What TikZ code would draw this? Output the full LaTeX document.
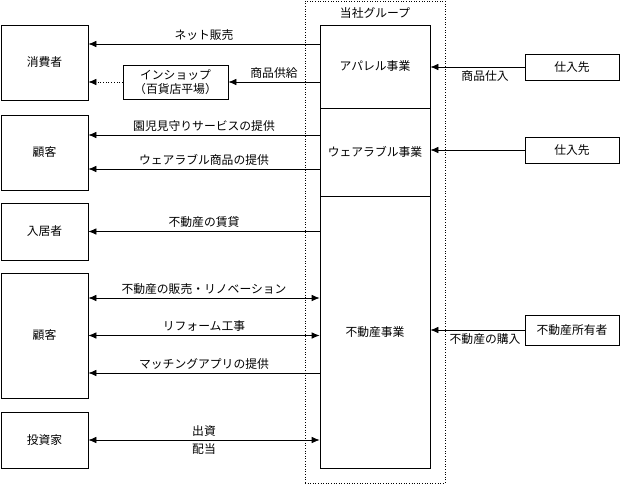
\documentclass[tikz,border=0pt]{standalone}
\usepackage{fontspec}
\setmainfont{Noto Sans CJK JP}
\usetikzlibrary{arrows.meta}

\begin{document}
\begin{tikzpicture}[x=1pt,y=-1pt,
    every node/.style={font=\fontsize{11.8}{14}\selectfont},
    box/.style={draw,line width=0.7pt,inner sep=0pt,align=center},
    arr/.style={-{Latex[length=8pt,width=6.5pt]},line width=0.7pt},
    darr/.style={{Latex[length=8pt,width=6.5pt]}-{Latex[length=8pt,width=6.5pt]},line width=0.7pt}]
    \useasboundingbox (0,0) rectangle (620,485);

    % 当社グループ
    \node[draw,dotted,line width=0.6pt,minimum width=140pt,minimum height=482pt,inner sep=0pt] (group) at (375,242) {};
    \node (grouplabel) at (375,13) {当社グループ};
    \node[box,minimum width=110pt,minimum height=83pt] (apparel) at (375,66.5) {アパレル事業};
    \node[box,minimum width=110pt,minimum height=88pt] (wearable) at (375,152) {ウェアラブル事業};
    \node[box,minimum width=110pt,minimum height=272pt] (realestate) at (375,332) {不動産事業};

    % 左側
    \node[box,minimum width=87pt,minimum height=75pt] (consumer) at (44.5,62.5) {消費者};
    \node[box,minimum width=87pt,minimum height=75pt] (custA) at (44.5,152.5) {顧客};
    \node[box,minimum width=87pt,minimum height=57pt] (resident) at (44.5,231.5) {入居者};
    \node[box,minimum width=87pt,minimum height=125pt] (custB) at (44.5,335.5) {顧客};
    \node[box,minimum width=87pt,minimum height=56pt] (investor) at (44.5,440) {投資家};
    \node[box,minimum width=105pt,minimum height=34pt] (inshop) at (175.5,82) {インショップ\\（百貨店平場）};

    % 右側
    \node[box,minimum width=94pt,minimum height=26pt] (supA) at (572,67) {仕入先};
    \node[box,minimum width=94pt,minimum height=26pt] (supB) at (572,150) {仕入先};
    \node[box,minimum width=94pt,minimum height=30pt] (owner) at (572,330) {不動産所有者};

    % 矢印
    \draw[arr] (apparel.west |- 0,44) -- (consumer.east |- 0,44) node[midway,above] {ネット販売};
    \draw[arr] (apparel.west |- inshop.east) -- (inshop.east) node[midway,above] {商品供給};
    \draw[arr,dotted] (inshop.west) -- (consumer.east |- inshop.west);
    \draw[arr] (wearable.west |- 0,135) -- (custA.east |- 0,135) node[midway,above] {園児見守りサービスの提供};
    \draw[arr] (wearable.west |- 0,169) -- (custA.east |- 0,169) node[midway,above] {ウェアラブル商品の提供};
    \draw[arr] (realestate.west |- resident.east) -- (resident.east) node[midway,above] {不動産の賃貸};
    \draw[darr] (realestate.west |- 0,298) -- (custB.east |- 0,298) node[midway,above] {不動産の販売・リノベーション};
    \draw[darr] (realestate.west |- custB.east) -- (custB.east) node[midway,above] {リフォーム工事};
    \draw[arr] (realestate.west |- 0,373) -- (custB.east |- 0,373) node[midway,above] {マッチングアプリの提供};
    \draw[darr] (realestate.west |- investor.east) -- (investor.east)
        node[midway,above] {出資} node[midway,below] {配当};

    \draw[arr] (supA.west) -- (apparel.east |- supA.west) node[pos=0.42,below] {商品仕入};
    \draw[arr] (supB.west) -- (wearable.east |- supB.west);
    \draw[arr] (owner.west) -- (realestate.east |- owner.west) node[pos=0.42,below] {不動産の購入};
\end{tikzpicture}
\end{document}
